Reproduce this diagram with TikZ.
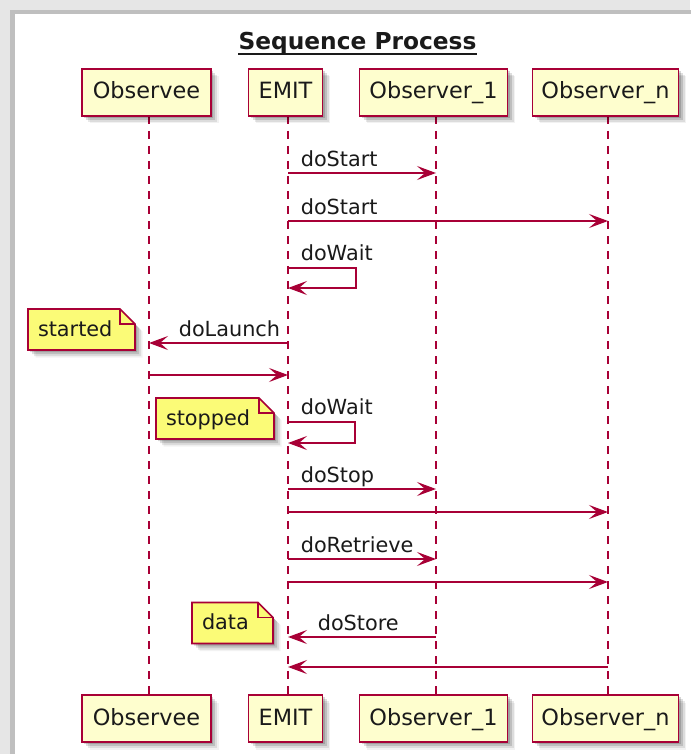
\documentclass[tikz,border=0pt]{standalone}
\usepackage{fontspec}
\setmainfont{DejaVu Sans}
\usetikzlibrary{arrows.meta,shadows,backgrounds}
\definecolor{umlred}{HTML}{A80036}
\definecolor{actorfill}{HTML}{FEFECE}
\definecolor{notefill}{HTML}{FBFB77}
\definecolor{frameouter}{HTML}{E6E6E6}
\definecolor{frameedge}{HTML}{BFBFBF}
\definecolor{inktext}{HTML}{1A1A1A}

% note outline with a folded corner, drawn around a named text node
\newcommand\dogear[1]{%
  \filldraw[noteshape] (#1.south west) -- (#1.north west) -- ([xshift=-15pt]#1.north east)
    -- ([yshift=-15pt]#1.north east) -- (#1.south east) -- cycle;
  \draw[noteedge] ([xshift=-15pt]#1.north east) |- ([yshift=-15pt]#1.north east);}

\begin{document}
\begin{tikzpicture}[x=1pt,y=-1pt,
  softshadow/.style={
    general shadow={shadow xshift=2pt,shadow yshift=-2pt,fill=black,opacity=.16},
    general shadow={shadow xshift=4pt,shadow yshift=-4pt,fill=black,opacity=.13},
    general shadow={shadow xshift=6pt,shadow yshift=-6pt,fill=black,opacity=.09},
    general shadow={shadow xshift=7.5pt,shadow yshift=-7.5pt,fill=black,opacity=.05}},
  actor/.style={draw=umlred, line width=1.8pt, fill=actorfill, minimum height=47pt,
    inner sep=0pt, outer sep=0pt, text height=13pt, text depth=0pt, text=inktext,
    font=\fontsize{22.4}{27}\selectfont, softshadow},
  notetext/.style={inner xsep=10pt, inner ysep=0pt, outer sep=0pt, minimum height=41pt,
    text height=13pt, text depth=0pt, align=left, text=inktext,
    font=\fontsize{20.8}{25}\selectfont},
  noteshape/.style={draw=umlred, line width=1.6pt, fill=notefill, line join=miter, softshadow},
  noteedge/.style={draw=umlred, line width=1.6pt},
  lifeline/.style={draw=umlred, line width=1.6pt, dash pattern=on 8pt off 7pt},
  msg/.style={draw=umlred, line width=1.6pt, -{Stealth[length=19pt,width=14pt,inset=8pt]}},
  lbl/.style={font=\fontsize{20.8}{25}\selectfont, inner sep=0pt, text=inktext}]

\useasboundingbox (0,0) rectangle (690,754);

% page frame
\begin{scope}[on background layer]
  \fill[frameouter] (0,0) rectangle (690,754);
  \fill[frameedge] (10,10) rectangle (692,14);
  \fill[frameedge] (10,10) rectangle (15,756);
  \fill[white] (15,14) rectangle (692,756);
\end{scope}

% title
\node[font=\bfseries\fontsize{23.3}{28}\selectfont, inner sep=0pt, anchor=base, text=inktext] (title) at (357.5,50) {Sequence Process};
\draw[line width=1.6pt, inktext] ([yshift=-4pt]title.base west) -- ([yshift=-4pt]title.base east);

% participants, top row
\node[actor, minimum width=129pt] (obsT)  at (146.5,92.5) {Observee};
\node[actor, minimum width=74pt]  (emitT) at (285.5,92.5) {EMIT};
\node[actor, minimum width=148pt] (oneT)  at (433.5,92.5) {Observer\_1};
\node[actor, minimum width=146pt] (nT)    at (605.5,92.5) {Observer\_n};

% participants, bottom row
\node[actor, minimum width=129pt] (obsB)  at (146.5,718.5) {Observee};
\node[actor, minimum width=74pt]  (emitB) at (285.5,718.5) {EMIT};
\node[actor, minimum width=148pt] (oneB)  at (433.5,718.5) {Observer\_1};
\node[actor, minimum width=146pt] (nB)    at (605.5,718.5) {Observer\_n};

% lifeline ends
\coordinate (lifeO)  at ([xshift=2.5pt]obsT.south);
\coordinate (lifeE)  at ([xshift=2.5pt]emitT.south);
\coordinate (life1)  at ([xshift=2.5pt]oneT.south);
\coordinate (lifeN)  at ([xshift=2.5pt]nT.south);
\coordinate (lifeOb) at ([xshift=2.5pt]obsB.north);
\coordinate (lifeEb) at ([xshift=2.5pt]emitB.north);
\coordinate (life1b) at ([xshift=2.5pt]oneB.north);
\coordinate (lifeNb) at ([xshift=2.5pt]nB.north);

\begin{scope}[on background layer]
  \draw[lifeline] (lifeO) -- (lifeOb);
  \draw[lifeline] (lifeE) -- (lifeEb);
  \draw[lifeline] (life1) -- (life1b);
  \draw[lifeline] (lifeN) -- (lifeNb);
\end{scope}

% message rows
\coordinate (r1) at (0,173);
\coordinate (r2) at (0,221);
\coordinate (r3) at (0,268);
\coordinate (r4) at (0,343);
\coordinate (r5) at (0,375);
\coordinate (r6) at (0,422);
\coordinate (r7) at (0,489);
\coordinate (r8) at (0,512);
\coordinate (r9) at (0,559);
\coordinate (r10) at (0,582);
\coordinate (r11) at (0,637);
\coordinate (r12) at (0,667);

\tikzset{rlbl/.style={lbl, pos=0, anchor=base west, xshift=12pt, yshift=6.5pt},
         llbl/.style={lbl, pos=1, anchor=base west, xshift=29pt, yshift=6.5pt}}

\draw[msg] (lifeE |- r1) -- node[rlbl] {doStart} (life1 |- r1);
\draw[msg] (lifeE |- r2) -- node[rlbl] {doStart} (lifeN |- r2);
\draw[msg] (lifeE |- r3) -- node[rlbl, yshift=1pt] {doWait} ++(68,0) -- ++(0,20) -- ++(-68,0);
\draw[msg] (lifeE |- r4) -- node[llbl] {doLaunch} (lifeO |- r4);
\draw[msg] (lifeO |- r5) -- (lifeE |- r5);
\draw[msg] (lifeE |- r6) -- node[rlbl, yshift=1pt] {doWait} ++(67,0) -- ++(0,21) -- ++(-67,0);
\draw[msg] (lifeE |- r7) -- node[rlbl] {doStop} (life1 |- r7);
\draw[msg] (lifeE |- r8) -- (lifeN |- r8);
\draw[msg] (lifeE |- r9) -- node[rlbl] {doRetrieve} (life1 |- r9);
\draw[msg] (lifeE |- r10) -- (lifeN |- r10);
\draw[msg] (life1 |- r11) -- node[llbl] {doStore} (lifeE |- r11);
\draw[msg] (lifeN |- r12) -- (lifeE |- r12);

% notes
\node[notetext, text width=87pt] (noteStarted) at (81.5,329.5) {started};
\node[notetext, text width=98pt] (noteStopped) at (215,418.5) {stopped};
\node[notetext, text width=61pt] (noteData)    at (232.5,623) {data};
\begin{scope}[on background layer]
  \dogear{noteStarted}
  \dogear{noteStopped}
  \dogear{noteData}
\end{scope}

\end{tikzpicture}
\end{document}
